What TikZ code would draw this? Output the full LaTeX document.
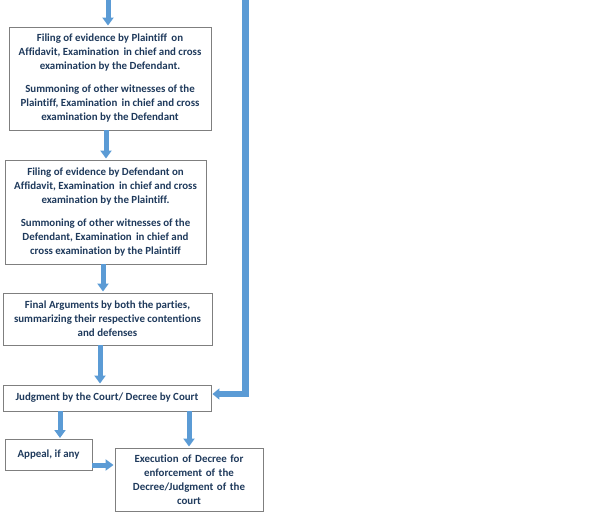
\documentclass[tikz,border=0pt]{standalone}
\usepackage{fontspec}
\setmainfont[Ligatures={NoCommon}]{Carlito}
\usetikzlibrary{arrows.meta}
\definecolor{txtc}{HTML}{1F3A5C}
\definecolor{arrc}{HTML}{5B9BD5}
\definecolor{boxc}{HTML}{7F7F7F}
\tikzset{
  boxnode/.style={draw=boxc, line width=0.9pt, fill=white, align=center,
    font=\fontsize{10.9}{14}\selectfont\bfseries, text=txtc, inner sep=2pt},
  barrow/.style={draw=arrc, line width=5pt,
    -{Triangle[width=11pt,length=8pt]}, shorten >=1pt},
}
\begin{document}
\begin{tikzpicture}[x=1pt,y=-1pt]
\useasboundingbox (0,0) rectangle (600,515);
\node[boxnode, minimum width=202, minimum height=103] (b1) at (110,78.5)
  {Filing of evidence by Plaintiff\, on\\Affidavit, Examination\, in chief and cross\\examination by the Defendant.\\[9pt]Summoning of other witnesses of the\\Plaintiff, Examination\, in chief and cross\\examination by the Defendant};
\node[boxnode, minimum width=201, minimum height=104] (b2) at (105.5,212)
  {Filing of evidence by Defendant on\\Affidavit, Examination\, in chief and cross\\examination by the Plaintiff.\\[9pt]Summoning of other witnesses of the\\Defendant, Examination\, in chief and\\cross examination by the Plaintiff};
\node[boxnode, minimum width=209, minimum height=52] (b3) at (107.5,319)
  {Final Arguments by both the parties,\\summarizing their respective contentions\\and defenses};
\node[boxnode, minimum width=208, minimum height=26] (b4) at (107,398)
  {Judgment by the Court/ Decree by Court};
\node[boxnode, minimum width=87, minimum height=31, anchor=north, inner ysep=4pt] (ap) at (48.5,439)
  {Appeal, if any};
\node[boxnode, minimum width=148, minimum height=63, text width=140] (ex) at (189,479.5)
  {Execution of Decree for\\enforcement of the\\Decree/Judgment of the\\court};
% arrows
\coordinate (t0) at (108,0);
\draw[barrow] (t0) -- (t0 |- b1.north);
\coordinate (a1) at (106,130);
\draw[barrow] (a1) -- (a1 |- b2.north);
\coordinate (a2) at (103,264);
\draw[barrow] (a2) -- (a2 |- b3.north);
\coordinate (a3) at (100,345);
\draw[barrow] (a3) -- (a3 |- b4.north);
\coordinate (a4) at (60,411);
\draw[barrow] (a4) -- (a4 |- ap.north);
\coordinate (a5) at (189,411);
\draw[barrow] (a5) -- (a5 |- ex.north);
\coordinate (a6) at (92,465);
\draw[barrow] (a6) -- (a6 -| ex.west);
\coordinate (lt) at (245.5,0);
\coordinate (lb) at (245.5,394);
\draw[draw=arrc, line width=6.5pt, -{Triangle[width=11pt,length=7pt]}, shorten >=1pt]
  (lt) -- (lb) -- (lb -| b4.east);
\end{tikzpicture}
\end{document}
